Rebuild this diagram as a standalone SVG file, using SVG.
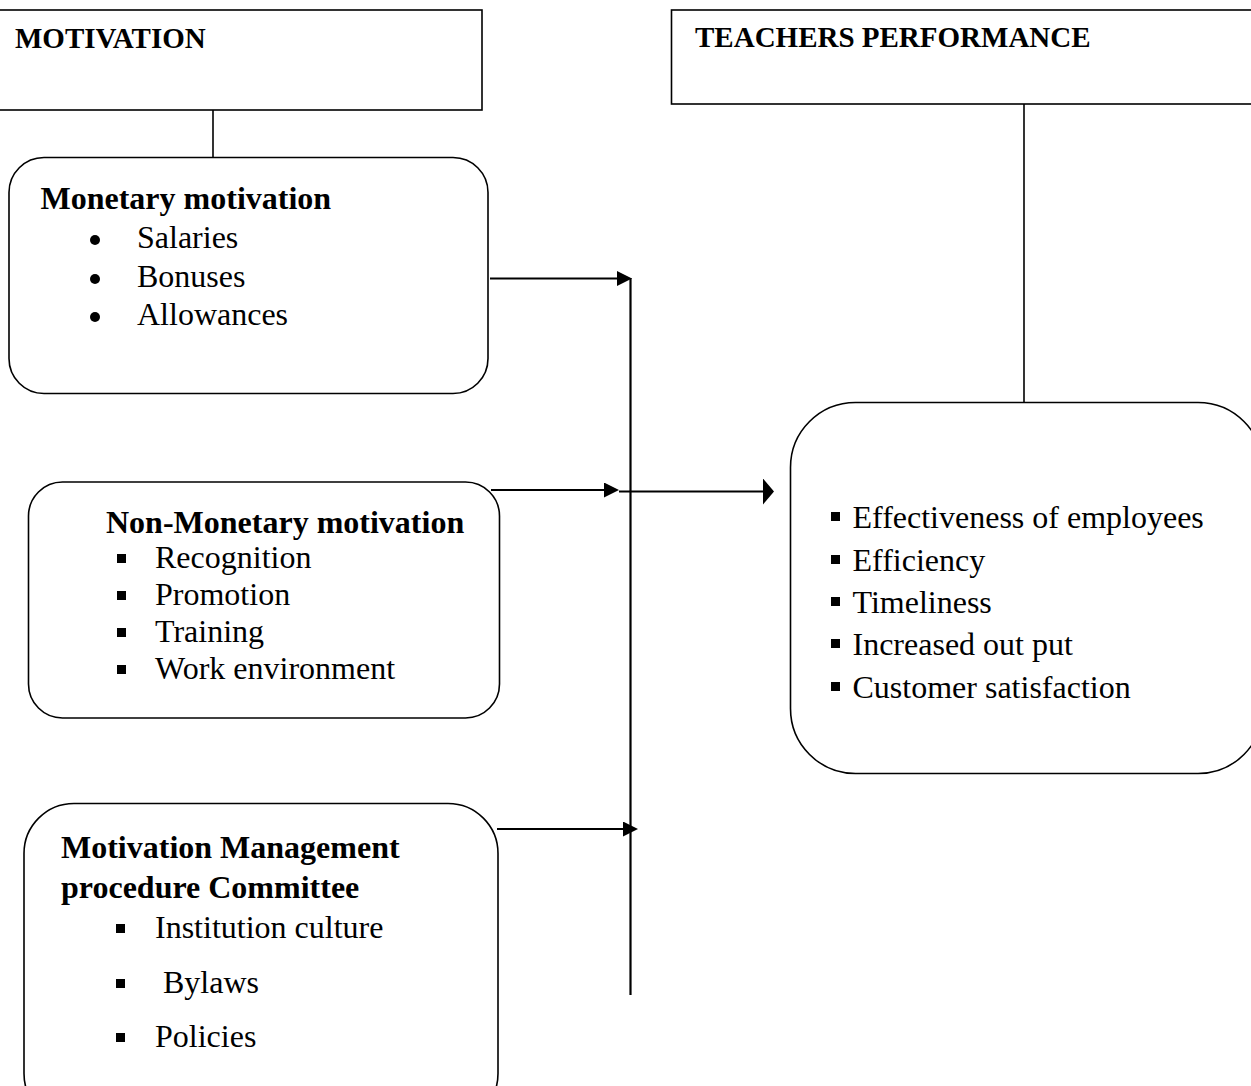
<svg xmlns="http://www.w3.org/2000/svg" width="1251" height="1086" viewBox="0 0 1251 1086">
  <style>
    .box { fill: #ffffff; stroke: #000000; stroke-width: 1.6; }
    .link { fill: none; stroke: #000000; stroke-width: 1.6; }
    .arrow { fill: none; stroke: #000000; stroke-width: 2.2; }
    .head { font-family: "Liberation Serif", "Times New Roman", serif; font-weight: bold; font-size: 29px; fill: #000000; }
    .title { font-family: "Liberation Serif", "Times New Roman", serif; font-weight: bold; font-size: 32px; fill: #000000; }
    .item { font-family: "Liberation Serif", "Times New Roman", serif; font-size: 32px; fill: #000000; }
    .dot { fill: #000000; }
  </style>
  <defs>
    <marker id="tri" markerUnits="userSpaceOnUse" markerWidth="15" markerHeight="15" refX="0" refY="7.5" orient="auto">
      <path d="M0,0 L15,7.5 L0,15 z" fill="#000000"/>
    </marker>
    <marker id="triTall" markerUnits="userSpaceOnUse" markerWidth="11" markerHeight="26" refX="0" refY="13" orient="auto">
      <path d="M0,0 L11,13 L0,26 z" fill="#000000"/>
    </marker>
  </defs>
  <rect x="0" y="0" width="1251" height="1086" fill="#ffffff"/>

  <!-- connectors -->
  <g id="connectors">
    <line class="link" x1="213" y1="110" x2="213" y2="158"/>
    <line class="link" x1="1024" y1="100" x2="1024" y2="403"/>
    <line class="arrow" x1="630.5" y1="278" x2="630.5" y2="995"/>
    <line class="arrow" x1="490" y1="278.5" x2="617" y2="278.5" marker-end="url(#tri)"/>
    <line class="arrow" x1="491" y1="490" x2="604" y2="490" marker-end="url(#tri)"/>
    <line class="arrow" x1="619" y1="491.5" x2="763" y2="491.5" marker-end="url(#triTall)"/>
    <line class="arrow" x1="497" y1="829" x2="623" y2="829" marker-end="url(#tri)"/>
  </g>

  <!-- header: motivation -->
  <g id="motivation">
    <rect class="box" x="-4" y="10" width="486" height="100"/>
    <text class="head" x="15" y="48">MOTIVATION</text>
  </g>

  <!-- header: teachers performance -->
  <g id="teachers-performance">
    <rect class="box" x="671.5" y="10" width="600" height="94"/>
    <text class="head" x="695" y="47">TEACHERS PERFORMANCE</text>
  </g>

  <!-- monetary motivation -->
  <g id="monetary">
    <rect class="box" x="9" y="157.5" width="479" height="236" rx="35" ry="35"/>
    <text class="title" x="40.5" y="209">Monetary motivation</text>
    <circle class="dot" cx="95" cy="240" r="5"/>
    <circle class="dot" cx="95" cy="279" r="5"/>
    <circle class="dot" cx="95" cy="317" r="5"/>
    <text class="item" x="137" y="248">Salaries</text>
    <text class="item" x="137" y="286.5">Bonuses</text>
    <text class="item" x="137" y="325">Allowances</text>
  </g>

  <!-- non-monetary motivation -->
  <g id="non-monetary">
    <rect class="box" x="28.5" y="482" width="471" height="236" rx="34" ry="34"/>
    <text class="title" x="106" y="533">Non-Monetary motivation</text>
    <rect class="dot" x="117" y="554" width="9" height="9"/>
    <rect class="dot" x="117" y="591" width="9" height="9"/>
    <rect class="dot" x="117" y="628" width="9" height="9"/>
    <rect class="dot" x="117" y="665" width="9" height="9"/>
    <text class="item" x="155" y="568">Recognition</text>
    <text class="item" x="155" y="605">Promotion</text>
    <text class="item" x="155" y="642">Training</text>
    <text class="item" x="155" y="679">Work environment</text>
  </g>

  <!-- motivation management procedure committee -->
  <g id="committee">
    <rect class="box" x="24" y="803.5" width="474" height="320" rx="50" ry="50"/>
    <text class="title" x="61" y="858">Motivation Management</text>
    <text class="title" x="61" y="898">procedure Committee</text>
    <rect class="dot" x="116" y="924" width="9" height="9"/>
    <rect class="dot" x="116" y="979" width="9" height="9"/>
    <rect class="dot" x="116" y="1033" width="9" height="9"/>
    <text class="item" x="155" y="938">Institution culture</text>
    <text class="item" x="163" y="993">Bylaws</text>
    <text class="item" x="155" y="1047">Policies</text>
  </g>

  <!-- performance indicators -->
  <g id="performance">
    <rect class="box" x="790.5" y="402.5" width="472.5" height="371" rx="65" ry="65"/>
    <rect class="dot" x="831" y="512" width="9" height="9"/>
    <rect class="dot" x="831" y="555" width="9" height="9"/>
    <rect class="dot" x="831" y="597" width="9" height="9"/>
    <rect class="dot" x="831" y="639" width="9" height="9"/>
    <rect class="dot" x="831" y="682" width="9" height="9"/>
    <text class="item" x="852.5" y="528">Effectiveness of employees</text>
    <text class="item" x="852.5" y="571">Efficiency</text>
    <text class="item" x="852.5" y="613">Timeliness</text>
    <text class="item" x="852.5" y="655">Increased out put</text>
    <text class="item" x="852.5" y="698">Customer satisfaction</text>
  </g>
</svg>
